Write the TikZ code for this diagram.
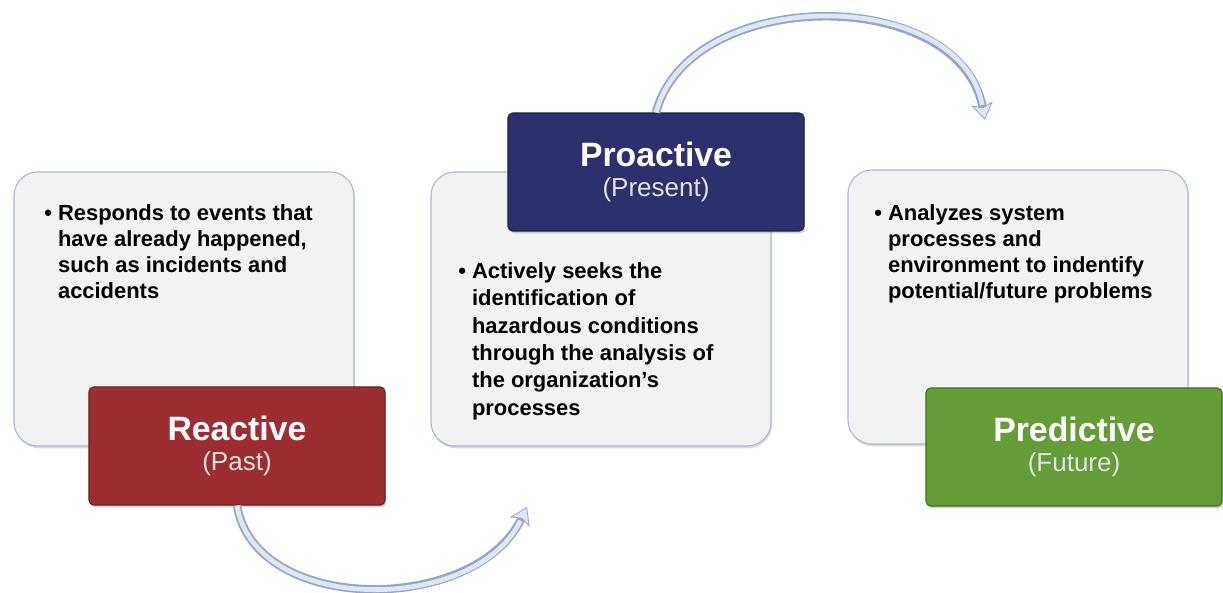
\documentclass[tikz,border=0pt]{standalone}
\usepackage{fontspec}
\setmainfont{Liberation Sans}
\usetikzlibrary{arrows.meta,shadows}
\definecolor{panelfill}{RGB}{242,242,242}
\definecolor{panelline}{RGB}{170,186,212}
\definecolor{pastred}{RGB}{156,46,49}
\definecolor{presentblue}{RGB}{46,48,110}
\definecolor{futuregreen}{RGB}{100,156,56}
\definecolor{subgrey}{RGB}{226,226,226}
\definecolor{arrowline}{RGB}{146,165,203}
\definecolor{arrowfill}{RGB}{224,231,243}
\newcommand\bulletpad{\phantom{\textbullet\ }}
\begin{document}
\begin{tikzpicture}[x=0.025cm,y=-0.025cm,
  panel/.style={draw=panelline,line width=0.8pt,fill=panelfill,rounded corners=0.6cm,minimum width=8.5cm,minimum height=6.85cm,drop shadow={shadow xshift=0.8pt,shadow yshift=-1.6pt,opacity=0.3}},
  tagbox/.style={draw=#1!70!black,line width=0.8pt,fill=#1,rounded corners=0.12cm,minimum width=7.4cm,minimum height=2.95cm,text=white,align=center,font=\fontsize{18.5}{21}\selectfont,drop shadow={shadow xshift=0.8pt,shadow yshift=-1.6pt,opacity=0.35}},
  bodytext/.style={anchor=north west,inner sep=0pt,align=left,font=\fontsize{15.6}{18.5}\selectfont\bfseries},
  band/.style={draw=arrowline,line width=6pt},
  bandcore/.style={draw=arrowfill,line width=3.4pt}]
\useasboundingbox (0,0) rectangle (1223,592);
\node[panel] (p1) at (184,309) {};
\node[panel] (p2) at (601,309) {};
\node[panel] (p3) at (1018,307) {};
\node[bodytext] (t1) at (44,204) {\textbullet\ Responds to events that\\\bulletpad have already happened,\\\bulletpad such as incidents and\\\bulletpad accidents};
\node[bodytext,font=\fontsize{15.6}{19.5}\selectfont\bfseries] (t2) at (458,262) {\textbullet\ Actively seeks the\\\bulletpad identification of\\\bulletpad hazardous conditions\\\bulletpad through the analysis of\\\bulletpad the organization's\\\bulletpad processes};
\node[bodytext] (t3) at (874,204) {\textbullet\ Analyzes system\\\bulletpad processes and\\\bulletpad environment to indentify\\\bulletpad potential/future problems};
\node[tagbox=pastred] (react) at (237,446) {{\fontsize{24}{26}\selectfont\bfseries Reactive}\\\color{subgrey}(Past)};
\node[tagbox=presentblue] (pro) at (656,172) {{\fontsize{24}{26}\selectfont\bfseries Proactive}\\\color{subgrey}(Present)};
\node[tagbox=futuregreen] (pred) at (1074,447) {{\fontsize{24}{26}\selectfont\bfseries Predictive}\\\color{subgrey}(Future)};
\coordinate (tipB) at (527,507);
\coordinate (tipT) at (985,120);
\draw[band,-{Stealth[length=0.42cm,width=0.55cm,inset=0.1cm,line width=0.6pt,fill=arrowfill]}] (react.south) .. controls (255,615) and (475,615) .. (tipB);
\draw[bandcore,shorten >=0.38cm] (react.south) .. controls (255,615) and (475,615) .. (tipB);
\draw[band,-{Stealth[length=0.42cm,width=0.55cm,inset=0.1cm,line width=0.6pt,fill=arrowfill]}] (pro.north) .. controls (690,-15) and (960,-15) .. (tipT);
\draw[bandcore,shorten >=0.38cm] (pro.north) .. controls (690,-15) and (960,-15) .. (tipT);
\end{tikzpicture}
\end{document}
